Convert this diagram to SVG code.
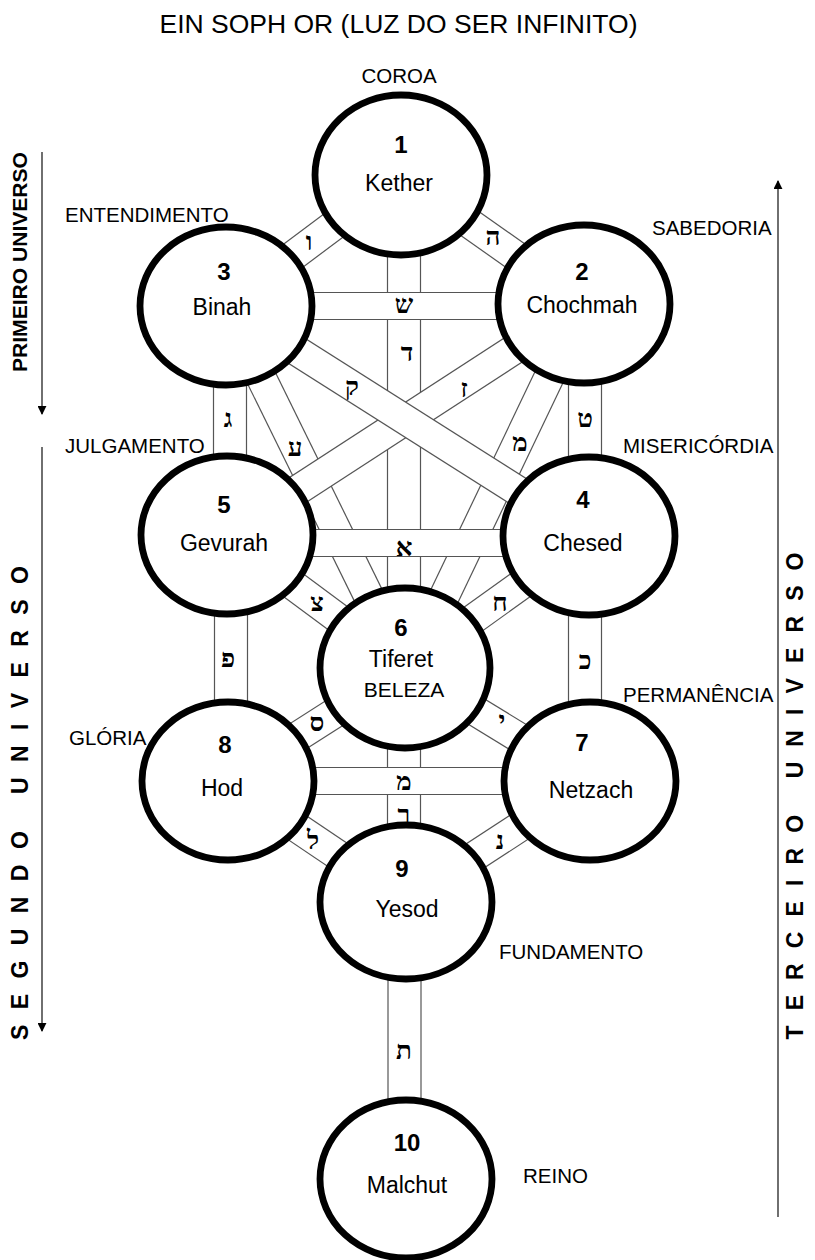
<svg xmlns="http://www.w3.org/2000/svg" width="815" height="1260" viewBox="0 0 815 1260">
<style>
.bg{fill:#fff}
.node ellipse{fill:#fff;stroke:#000;stroke-width:6.8}
.num{font-family:"Liberation Sans",Arial,sans-serif;font-size:24px;font-weight:bold;text-anchor:middle;fill:#000}
.name{font-family:"Liberation Sans",Arial,sans-serif;font-size:23px;text-anchor:middle;fill:#000}
.sub{font-family:"Liberation Sans",Arial,sans-serif;font-size:21px;text-anchor:middle;fill:#000}
.lbl{font-family:"Liberation Sans",Arial,sans-serif;font-size:20.5px;fill:#000}
.title{font-family:"Liberation Sans",Arial,sans-serif;font-size:26.5px;text-anchor:middle;fill:#000}
.side{font-family:"Liberation Sans",Arial,sans-serif;font-weight:bold;text-anchor:middle;fill:#000}
.heb{font-family:"Liberation Serif","DejaVu Serif",serif;font-size:26px;font-weight:bold;text-anchor:middle;fill:#000}
.o{stroke:#555;fill:none}
.i{stroke:#fff;fill:none}
.o.v{stroke-width:34.2}.i.v{stroke-width:31.8}
.o.h{stroke-width:28.2}.i.h{stroke-width:25.8}
.o.d{stroke-width:31.2}.i.d{stroke-width:28.8}
.axis{stroke:#333;stroke-width:1.4;fill:none}
</style>
<defs>
<marker id="arr" viewBox="0 0 10 10" refX="9" refY="5" markerWidth="9" markerHeight="9" markerUnits="userSpaceOnUse" orient="auto">
<path d="M0,0 L10,5 L0,10 Z" fill="#000"/>
</marker>
<path id="p-d" d="M404,175 V668"/>
<path id="p-r" d="M404,668 V901"/>
<path id="p-t" d="M404.5,901 V1178"/>
<path id="p-ayin" d="M226,306 L404,668"/>
<path id="p-mem1" d="M584,304 L410,668"/>
<path id="p-zayin" d="M584,304 L227,536"/>
<path id="p-qof" d="M226,306 L589,536"/>
<path id="p-shin" d="M226,306 H584"/>
<path id="p-aleph" d="M227,543 H589"/>
<path id="p-mem2" d="M228,781 H590"/>
<path id="p-gimel" d="M230,306 V536"/>
<path id="p-tet" d="M585,304 V536"/>
<path id="p-pe" d="M231,536 V781"/>
<path id="p-kaf" d="M585,536 V781"/>
<path id="p-he" d="M401,175 L584,304"/>
<path id="p-vav" d="M401,175 L226,306"/>
<path id="p-tsade" d="M227,536 L405,668"/>
<path id="p-chet" d="M589,536 L405,668"/>
<path id="p-samekh" d="M405,668 L228,781"/>
<path id="p-yod" d="M405,668 L590,781"/>
<path id="p-lamed" d="M228,781 L406,901"/>
<path id="p-nun" d="M590,781 L406,901"/>
</defs>
<rect class="bg" x="0" y="0" width="815" height="1260"/>

<g id="connectors">
<g id="e-dalet"><use href="#p-d" class="o v"/><use href="#p-d" class="i v"/></g>
<g id="e-resh"><use href="#p-r" class="o v"/><use href="#p-r" class="i v"/></g>
<g id="e-tav"><use href="#p-t" class="o v"/><use href="#p-t" class="i v"/></g>
<g id="e-ayin"><use href="#p-ayin" class="o d"/><use href="#p-ayin" class="i d"/></g>
<g id="e-mem1"><use href="#p-mem1" class="o d"/><use href="#p-mem1" class="i d"/></g>
<g id="e-zayin"><use href="#p-zayin" class="o d"/><use href="#p-zayin" class="i d"/></g>
<g id="e-qof"><use href="#p-qof" class="o d"/><use href="#p-qof" class="i d"/></g>
<g id="e-shin"><use href="#p-shin" class="o h"/><use href="#p-shin" class="i h"/></g>
<g id="e-aleph"><use href="#p-aleph" class="o h"/><use href="#p-aleph" class="i h"/></g>
<g id="e-mem2"><use href="#p-mem2" class="o h"/><use href="#p-mem2" class="i h"/></g>
<g id="e-gimel"><use href="#p-gimel" class="o v"/><use href="#p-gimel" class="i v"/></g>
<g id="e-tet"><use href="#p-tet" class="o v"/><use href="#p-tet" class="i v"/></g>
<g id="e-pe"><use href="#p-pe" class="o v"/><use href="#p-pe" class="i v"/></g>
<g id="e-kaf"><use href="#p-kaf" class="o v"/><use href="#p-kaf" class="i v"/></g>
<g id="e-he"><use href="#p-he" class="o d"/><use href="#p-he" class="i d"/></g>
<g id="e-vav"><use href="#p-vav" class="o d"/><use href="#p-vav" class="i d"/></g>
<g id="e-tsade"><use href="#p-tsade" class="o d"/><use href="#p-tsade" class="i d"/></g>
<g id="e-chet"><use href="#p-chet" class="o d"/><use href="#p-chet" class="i d"/></g>
<g id="e-samekh"><use href="#p-samekh" class="o d"/><use href="#p-samekh" class="i d"/></g>
<g id="e-yod"><use href="#p-yod" class="o d"/><use href="#p-yod" class="i d"/></g>
<g id="e-lamed"><use href="#p-lamed" class="o d"/><use href="#p-lamed" class="i d"/></g>
<g id="e-nun"><use href="#p-nun" class="o d"/><use href="#p-nun" class="i d"/></g>
</g>

<g id="letters">
<text class="heb" x="309" y="250">ו</text>
<text class="heb" x="493" y="245">ה</text>
<text class="heb" x="404" y="313">ש</text>
<text class="heb" x="407" y="361">ד</text>
<text class="heb" x="352" y="395">ק</text>
<text class="heb" x="464" y="397">ז</text>
<text class="heb" x="228" y="427">ג</text>
<text class="heb" x="295" y="456">ע</text>
<text class="heb" x="520" y="451">מ</text>
<text class="heb" x="585" y="427">ט</text>
<text class="heb" x="404" y="556">א</text>
<text class="heb" x="317" y="611">צ</text>
<text class="heb" x="500" y="611">ח</text>
<text class="heb" x="228" y="667">פ</text>
<text class="heb" x="585" y="669">כ</text>
<text class="heb" x="317" y="731">ס</text>
<text class="heb" x="502" y="729">י</text>
<text class="heb" x="404" y="790">מ</text>
<text class="heb" x="404" y="823">ר</text>
<text class="heb" x="313" y="849">ל</text>
<text class="heb" x="500" y="849">נ</text>
<text class="heb" x="404" y="1059">ת</text>
</g>

<g id="n1" class="node"><ellipse cx="401" cy="175" rx="86" ry="80"/><text class="num" x="401" y="153">1</text><text class="name" x="399" y="191">Kether</text></g>
<g id="n2" class="node"><ellipse cx="584" cy="304" rx="86" ry="79"/><text class="num" x="582" y="280">2</text><text class="name" x="582" y="313">Chochmah</text></g>
<g id="n3" class="node"><ellipse cx="226" cy="306" rx="86" ry="79"/><text class="num" x="224" y="280">3</text><text class="name" x="222" y="315">Binah</text></g>
<g id="n4" class="node"><ellipse cx="589" cy="536" rx="86" ry="79"/><text class="num" x="583" y="508">4</text><text class="name" x="583" y="551">Chesed</text></g>
<g id="n5" class="node"><ellipse cx="227" cy="535" rx="86" ry="79"/><text class="num" x="224" y="513">5</text><text class="name" x="224" y="551">Gevurah</text></g>
<g id="n6" class="node"><ellipse cx="405" cy="668" rx="85" ry="80"/><text class="num" x="401" y="636">6</text><text class="name" x="401" y="667">Tiferet</text><text class="sub" x="404" y="697">BELEZA</text></g>
<g id="n7" class="node"><ellipse cx="590" cy="781" rx="86" ry="79"/><text class="num" x="582" y="751">7</text><text class="name" x="591" y="798">Netzach</text></g>
<g id="n8" class="node"><ellipse cx="228" cy="781" rx="86" ry="79"/><text class="num" x="225" y="753">8</text><text class="name" x="222" y="796">Hod</text></g>
<g id="n9" class="node"><ellipse cx="406" cy="902" rx="86" ry="77"/><text class="num" x="402" y="877">9</text><text class="name" x="407" y="917">Yesod</text></g>
<g id="n10" class="node"><ellipse cx="406" cy="1179" rx="86" ry="79"/><text class="num" x="407" y="1151">10</text><text class="name" x="407" y="1193">Malchut</text></g>

<g id="labels">
<text class="title" x="398.5" y="33">EIN SOPH OR (LUZ DO SER INFINITO)</text>
<text class="lbl" x="399" y="83" text-anchor="middle">COROA</text>
<text class="lbl" x="65" y="222">ENTENDIMENTO</text>
<text class="lbl" x="652" y="235">SABEDORIA</text>
<text class="lbl" x="65" y="453">JULGAMENTO</text>
<text class="lbl" x="623" y="453">MISERICÓRDIA</text>
<text class="lbl" x="69" y="745">GLÓRIA</text>
<text class="lbl" x="623" y="702">PERMANÊNCIA</text>
<text class="lbl" x="499" y="959">FUNDAMENTO</text>
<text class="lbl" x="523" y="1183">REINO</text>
</g>

<g id="axes">
<line class="axis" x1="42" y1="152" x2="42" y2="414" marker-end="url(#arr)"/>
<line class="axis" x1="42" y1="447" x2="42" y2="1031" marker-end="url(#arr)"/>
<line class="axis" x1="778" y1="1217" x2="778" y2="181" marker-end="url(#arr)"/>
<text class="side" font-size="21" transform="translate(27,262) rotate(-90)" textLength="220" lengthAdjust="spacingAndGlyphs">PRIMEIRO UNIVERSO</text>
<text class="side" font-size="23" transform="translate(28,803) rotate(-90)" textLength="474" lengthAdjust="spacing">SEGUNDO UNIVERSO</text>
<text class="side" font-size="23" transform="translate(803,796) rotate(-90)" textLength="487" lengthAdjust="spacing">TERCEIRO UNIVERSO</text>
</g>
</svg>
